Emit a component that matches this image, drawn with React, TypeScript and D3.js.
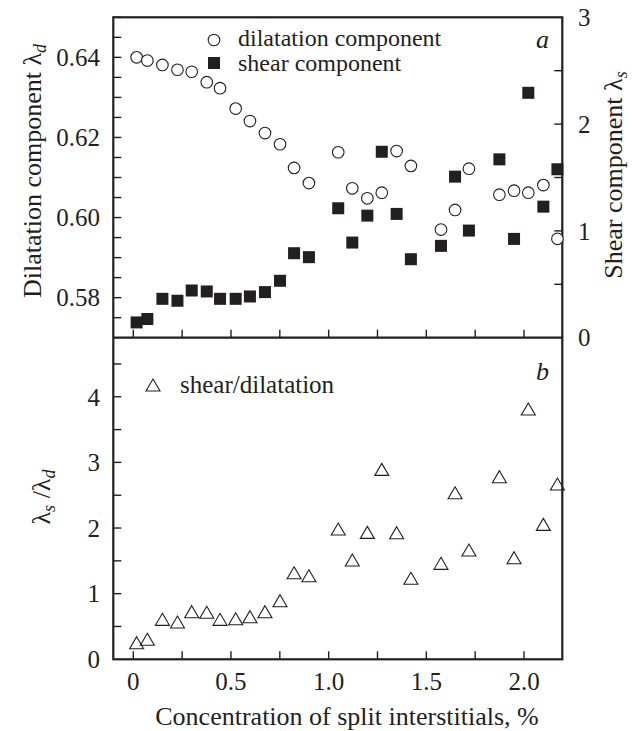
import React from "react";
import * as d3 from "d3";

const concentration = [0.017, 0.072, 0.149, 0.226, 0.299, 0.376, 0.444, 0.524, 0.597, 0.674, 0.751, 0.823, 0.899, 1.049, 1.121, 1.198, 1.272, 1.348, 1.421, 1.575, 1.647, 1.718, 1.874, 1.949, 2.022, 2.099, 2.171];
const dilatation = [0.640, 0.6392, 0.6381, 0.6369, 0.6364, 0.6338, 0.6323, 0.6272, 0.6241, 0.6211, 0.6183, 0.6124, 0.6086, 0.6163, 0.6073, 0.6048, 0.6062, 0.6166, 0.6129, 0.5970, 0.6019, 0.6122, 0.6057, 0.6067, 0.6062, 0.6081, 0.5947];
const shear = [0.143, 0.175, 0.364, 0.346, 0.442, 0.433, 0.364, 0.364, 0.386, 0.427, 0.533, 0.791, 0.754, 1.212, 0.891, 1.143, 1.741, 1.159, 0.735, 0.860, 1.508, 1.003, 1.670, 0.925, 2.293, 1.227, 1.577];
const ratio = [0.253, 0.305, 0.609, 0.568, 0.725, 0.716, 0.609, 0.618, 0.649, 0.725, 0.893, 1.319, 1.273, 1.985, 1.513, 1.934, 2.894, 1.929, 1.234, 1.462, 2.538, 1.665, 2.782, 1.548, 3.813, 2.056, 2.670];

const xTickLabels = ["0", "0.5", "1.0", "1.5", "2.0"];
const leftTopTickLabels = ["0.58", "0.60", "0.62", "0.64"];
const rightTopTickLabels = ["0", "1", "2", "3"];
const leftBottomTickLabels = ["0", "1", "2", "3", "4"];

const INK = "#231f20";
const FONT = "'Liberation Serif', 'Times New Roman', Times, serif";

const L = 113.3, R = 562.3, T = 17.3, MID = 337.7, B = 659.3;

export default function App() {
  const x = d3.scaleLinear().domain([-0.1024, 2.196]).range([L, R]);
  const yd = d3.scaleLinear().domain([0.57, 0.65]).range([MID, T]);
  const ys = d3.scaleLinear().domain([0, 3]).range([MID, T]);
  const yr = d3.scaleLinear().domain([0, 4.9]).range([B, MID]);

  const xTicks = d3.range(0, 9).map((i) => i * 0.25);
  const ydTicks = d3.range(0, 16).map((i) => 0.575 + i * 0.005);
  const ysTicks = d3.range(1, 6).map((i) => i * 0.5);
  const yrTicks = d3.range(1, 10).map((i) => i * 0.5);
  const TL = 8;

  const tri = (cx: number, cy: number) => {
    const w = 14, h = 12;
    return `M${cx},${cy - h / 2}L${cx + w / 2},${cy + h / 2}L${cx - w / 2},${cy + h / 2}Z`;
  };

  return (
    <svg width={640} height={731} style={{ position: "absolute", left: 0, top: 0, background: "#fff", fontFamily: FONT }} fontFamily={FONT} fill={INK}>
      <rect x={0} y={0} width={640} height={731} fill="#fff" />
      {xTicks.map((t, i) => (
        <line key={"xt1" + i} x1={x(t)} x2={x(t)} y1={MID} y2={MID - TL} stroke={INK} strokeWidth={1.4} />
      ))}
      {xTicks.map((t, i) => (
        <line key={"xt2" + i} x1={x(t)} x2={x(t)} y1={B} y2={B - TL} stroke={INK} strokeWidth={1.4} />
      ))}
      {ydTicks.map((t, i) => (
        <line key={"ydt" + i} x1={L} x2={L + TL} y1={yd(t)} y2={yd(t)} stroke={INK} strokeWidth={1.4} />
      ))}
      {ysTicks.map((t, i) => (
        <line key={"yst" + i} x1={R} x2={R - TL} y1={ys(t)} y2={ys(t)} stroke={INK} strokeWidth={1.4} />
      ))}
      {yrTicks.map((t, i) => (
        <line key={"yrt" + i} x1={L} x2={L + TL} y1={yr(t)} y2={yr(t)} stroke={INK} strokeWidth={1.4} />
      ))}
      <rect x={L} y={T} width={R - L} height={B - T} fill="none" stroke={INK} strokeWidth={2.2} />
      <line x1={L} x2={R} y1={MID} y2={MID} stroke={INK} strokeWidth={2.2} />

      {xTickLabels.map((s, i) => (
        <text key={"xl" + i} x={x(+s)} y={690} fontSize={25} textAnchor="middle">{s}</text>
      ))}
      {leftTopTickLabels.map((s, i) => (
        <text key={"ydl" + i} x={100} y={yd(+s)} dy="0.35em" fontSize={25} textAnchor="end">{s}</text>
      ))}
      {rightTopTickLabels.map((s, i) => (
        <text key={"ysl" + i} x={578} y={ys(+s)} dy="0.35em" fontSize={25} textAnchor="start">{s}</text>
      ))}
      {leftBottomTickLabels.map((s, i) => (
        <text key={"yrl" + i} x={100} y={yr(+s)} dy="0.35em" fontSize={25} textAnchor="end">{s}</text>
      ))}

      {concentration.map((c, i) => (
        <circle key={"c" + i} cx={x(c)} cy={yd(dilatation[i])} r={5.8} fill="#fff" stroke={INK} strokeWidth={1.1} />
      ))}
      {concentration.map((c, i) => (
        <rect key={"s" + i} x={x(c) - 6} y={ys(shear[i]) - 6} width={12} height={12} fill={INK} />
      ))}
      {concentration.map((c, i) => (
        <path key={"t" + i} d={tri(x(c), yr(ratio[i]))} fill="none" stroke={INK} strokeWidth={1.1} />
      ))}

      <circle cx={214} cy={40} r={5.8} fill="#fff" stroke={INK} strokeWidth={1.1} />
      <text x={238} y={46} fontSize={24}>dilatation component</text>
      <rect x={208} y={57} width={12} height={12} fill={INK} />
      <text x={238} y={71} fontSize={24}>shear component</text>
      <path d={tri(153, 385)} fill="none" stroke={INK} strokeWidth={1.1} />
      <text x={180} y={393} fontSize={25}>shear/dilatation</text>

      <text x={549} y={48} fontSize={26} fontStyle="italic" textAnchor="end">a</text>
      <text x={549} y={380} fontSize={26} fontStyle="italic" textAnchor="end">b</text>

      <text transform="translate(41,171) rotate(-90)" fontSize={26} textAnchor="middle">
        Dilatation component λ<tspan fontSize={18} fontStyle="italic" dy="5">d</tspan>
      </text>
      <text transform="translate(622,175) rotate(-90)" fontSize={26} textAnchor="middle">
        Shear component λ<tspan fontSize={18} fontStyle="italic" dy="5">s</tspan>
      </text>
      <text transform="translate(50,497) rotate(-90)" fontSize={26} textAnchor="middle">
        λ<tspan fontSize={18} fontStyle="italic" dy="5">s</tspan><tspan dy="-5"> /λ</tspan><tspan fontSize={18} fontStyle="italic" dy="5">d</tspan>
      </text>
      <text x={347} y={725} fontSize={26} textAnchor="middle">Concentration of split interstitials, %</text>
    </svg>
  );
}
